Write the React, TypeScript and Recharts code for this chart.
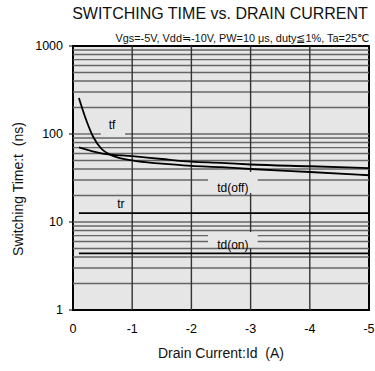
import {
  LineChart,
  Line,
  XAxis,
  YAxis,
  CartesianGrid,
  ReferenceArea,
  ReferenceLine,
  ReferenceDot,
} from 'recharts';

// Drain current (A) and switching times (ns)
const TF_ID = [-0.1, -0.2, -0.34, -0.48, -0.63, -1, -1.5, -2, -2.5, -3, -4, -5];
const TF_NS = [256, 159, 93, 68, 58, 50, 46, 43.5, 42, 40, 37, 34];

const TDOFF_ID = [-0.1, -0.5, -1, -1.5, -2, -2.5, -3, -4, -5];
const TDOFF_NS = [70.5, 60, 56, 52, 48.5, 47, 45, 43, 41];

const TR_ID = [-0.1, -5];
const TR_NS = [12.6, 12.6];

const TDON_ID = [-0.1, -5];
const TDON_NS = [4.4, 4.4];

const X_TICKS = [0, -1, -2, -3, -4, -5];
const Y_TICKS = [1, 10, 100, 1000];
const H_GRID = [2, 3, 4, 5, 6, 7, 8, 9, 10, 20, 30, 40, 50, 60, 70, 80, 90, 100, 200, 300, 400, 500, 600, 700, 800, 900];
const V_GRID = [-1, -2, -3, -4];

// curve labels: [text, Id, t]
const LABELS: [string, number, number][] = [
  ['tf', -0.66, 126],
  ['tr', -0.81, 16],
  ['td(off)', -2.7, 24.3],
  ['td(on)', -2.7, 5.5],
];

// gaps cut in the grid behind the labels: horizontal [t, Id from, Id to], vertical [Id, t from, t to]
const H_GAPS: [number, number, number][] = [
  [100, -0.47, -0.88],
  [30, -2.28, -3.12],
  [7, -2.28, -3.12],
  [6, -2.28, -3.12],
];
const V_GAPS: [number, number, number][] = [
  [-3, 21.3, 37],
  [-3, 5.06, 7.7],
];

const toPoints = (xs: number[], ys: number[]) => xs.map((x, i) => ({ x, y: ys[i] }));

const FONT = '"Liberation Sans", Arial, sans-serif';
const BG = '#e6e6e6';

function hSegments(v: number) {
  const g = H_GAPS.find((d) => d[0] === v);
  if (!g) return [[{ x: 0, y: v }, { x: -5, y: v }]];
  return [
    [{ x: 0, y: v }, { x: g[1], y: v }],
    [{ x: g[2], y: v }, { x: -5, y: v }],
  ];
}

function vSegments(v: number) {
  const gaps = V_GAPS.filter((d) => d[0] === v).sort((a, b) => a[1] - b[1]);
  const segs = [];
  let from = 1;
  gaps.forEach((g) => {
    segs.push([{ x: v, y: from }, { x: v, y: g[1] }]);
    from = g[2];
  });
  segs.push([{ x: v, y: from }, { x: v, y: 1000 }]);
  return segs;
}

export default function App() {
  const tf = toPoints(TF_ID, TF_NS);
  const tdoff = toPoints(TDOFF_ID, TDOFF_NS);
  const tr = toPoints(TR_ID, TR_NS);
  const tdon = toPoints(TDON_ID, TDON_NS);

  const tick = { fontSize: 12.5, fill: '#000', fontFamily: FONT };

  return (
    <div style={{ position: 'absolute', left: 0, top: 0, width: 375, height: 371, background: '#fff', fontFamily: FONT, color: '#111' }}>
      <div style={{ position: 'absolute', left: 60, width: 320, top: 5, textAlign: 'center', fontSize: 16, lineHeight: '18px' }}>
        SWITCHING TIME vs. DRAIN CURRENT
      </div>
      <div style={{ position: 'absolute', right: 6, top: 32, fontSize: 10.9, lineHeight: '12px', whiteSpace: 'nowrap' }}>
        Vgs=-5V, Vdd≒-10V, PW=10 μs, duty≦1%, Ta=25℃
      </div>
      <div style={{ position: 'absolute', left: 121, width: 200, top: 345, textAlign: 'center', fontSize: 14, lineHeight: '16px', whiteSpace: 'pre' }}>
        {'Drain Current:Id  (A)'}
      </div>
      <div style={{ position: 'absolute', left: -82, width: 200, top: 181, textAlign: 'center', fontSize: 14, lineHeight: '16px', whiteSpace: 'pre', transform: 'rotate(-90deg)' }}>
        {'Switching Time:t  (ns)'}
      </div>
      <LineChart width={375} height={371} margin={{ top: 46, right: 6, bottom: 6, left: 0 }}>
        <CartesianGrid fill={BG} horizontal={false} vertical={false} />
        <XAxis
          type="number"
          dataKey="x"
          domain={[-5, 0]}
          reversed
          ticks={X_TICKS}
          allowDuplicatedCategory={false}
          tick={tick}
          tickLine={false}
          tickMargin={8}
          axisLine={false}
          height={55}
        />
        <YAxis
          type="number"
          dataKey="y"
          scale="log"
          domain={[1, 1000]}
          ticks={Y_TICKS}
          allowDataOverflow
          tick={tick}
          tickSize={4}
          tickMargin={6}
          axisLine={false}
          tickLine={{ stroke: '#000' }}
          width={73}
        />
        {H_GRID.flatMap((v) =>
          hSegments(v).map((s, i) => (
            <ReferenceLine key={'h' + v + '-' + i} segment={s} stroke="#666" strokeWidth={1.4} />
          )),
        )}
        {V_GRID.flatMap((v) =>
          vSegments(v).map((s, i) => (
            <ReferenceLine key={'v' + v + '-' + i} segment={s} stroke="#333" strokeWidth={1.4} />
          )),
        )}
        {LABELS.map(([text, x, y]) => (
          <ReferenceDot key={text} x={x} y={y} r={0} fill="none" stroke="none"
            label={{ value: text, position: 'center', fontSize: 12, fill: '#000', fontFamily: FONT }} />
        ))}
        <Line data={tf} dataKey="y" stroke="#000" strokeWidth={1.8} dot={false} type="monotone" isAnimationActive={false} />
        <Line data={tdoff} dataKey="y" stroke="#000" strokeWidth={1.8} dot={false} type="monotone" isAnimationActive={false} />
        <Line data={tr} dataKey="y" stroke="#000" strokeWidth={1.8} dot={false} isAnimationActive={false} />
        <Line data={tdon} dataKey="y" stroke="#000" strokeWidth={1.8} dot={false} isAnimationActive={false} />
        <ReferenceArea x1={0} x2={-5} y1={1} y2={1000} fill="none" stroke="#000" strokeWidth={2} />
      </LineChart>
    </div>
  );
}
